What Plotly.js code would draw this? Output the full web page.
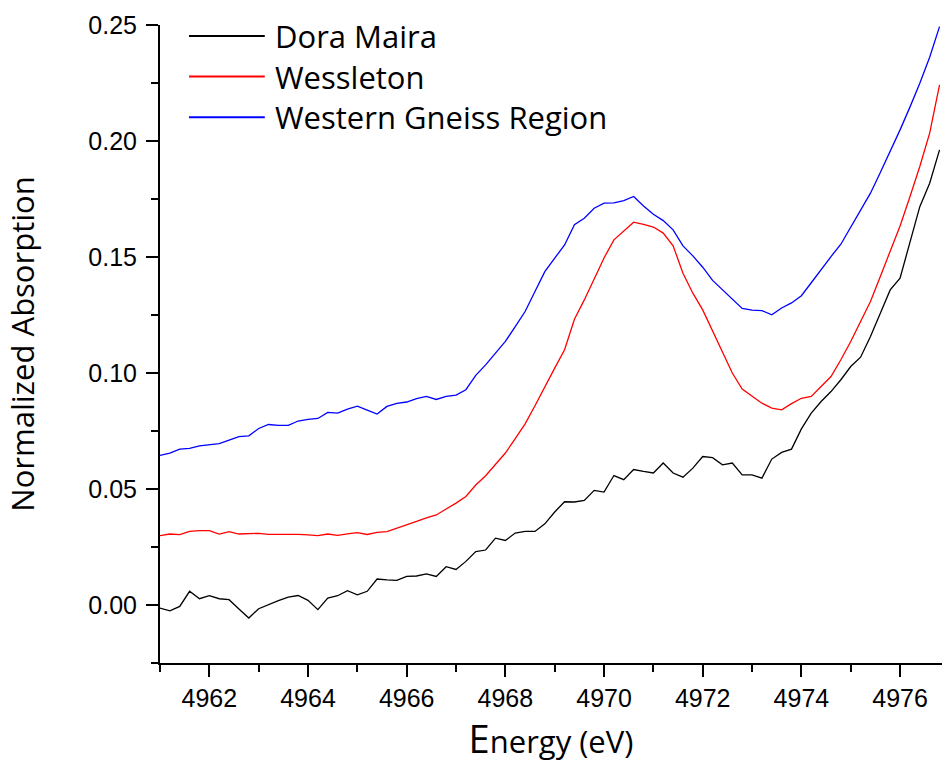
<!DOCTYPE html>
<html>
<head>
<meta charset="utf-8">
<script src="https://cdn.plot.ly/plotly-3.0.1.min.js"></script>
<style>
  html, body { margin: 0; padding: 0; background: #fff; }
  #chart { width: 942px; height: 766px; }
</style>
</head>
<body>
<div id="chart"></div>
<script>
// Photon energy (eV) of each sample point
const energy = [
  4961.0, 4961.2, 4961.4, 4961.6, 4961.8, 4962.0, 4962.2, 4962.4, 4962.6, 4962.8,
  4963.0, 4963.2, 4963.4, 4963.6, 4963.8, 4964.0, 4964.2, 4964.4, 4964.6, 4964.8,
  4965.0, 4965.2, 4965.4, 4965.6, 4965.8, 4966.0, 4966.2, 4966.4, 4966.6, 4966.8,
  4967.0, 4967.2, 4967.4, 4967.6, 4967.8, 4968.0, 4968.2, 4968.4, 4968.6, 4968.8,
  4969.0, 4969.2, 4969.4, 4969.6, 4969.8, 4970.0, 4970.2, 4970.4, 4970.6, 4970.8,
  4971.0, 4971.2, 4971.4, 4971.6, 4971.8, 4972.0, 4972.2, 4972.4, 4972.6, 4972.8,
  4973.0, 4973.2, 4973.4, 4973.6, 4973.8, 4974.0, 4974.2, 4974.4, 4974.6, 4974.8,
  4975.0, 4975.2, 4975.4, 4975.6, 4975.8, 4976.0, 4976.2, 4976.4, 4976.6, 4976.8
];

// Normalized absorption, Dora Maira
const doraMaira = [
  -0.0013, -0.0025, -0.0006, 0.0059, 0.0027, 0.0040, 0.0027, 0.0023, -0.0017, -0.0056,
  -0.0016, 0.0003, 0.0019, 0.0034, 0.0041, 0.0020, -0.0020, 0.0030, 0.0040, 0.0062,
  0.0044, 0.0059, 0.0112, 0.0108, 0.0106, 0.0123, 0.0125, 0.0134, 0.0123, 0.0165,
  0.0153, 0.0188, 0.0230, 0.0237, 0.0288, 0.0278, 0.0310, 0.0317, 0.0317, 0.0350,
  0.0401, 0.0445, 0.0444, 0.0451, 0.0494, 0.0487, 0.0558, 0.0540, 0.0584, 0.0576,
  0.0569, 0.0612, 0.0569, 0.0551, 0.0590, 0.0640, 0.0635, 0.0604, 0.0612, 0.0561,
  0.0561, 0.0547, 0.0629, 0.0658, 0.0672, 0.0759, 0.0827, 0.0877, 0.0920, 0.0971,
  0.1028, 0.1068, 0.1157, 0.1258, 0.1358, 0.1409, 0.1560, 0.1717, 0.1818, 0.1962
];

// Normalized absorption, Wessleton
const wessleton = [
  0.0299, 0.0306, 0.0303, 0.0317, 0.0321, 0.0321, 0.0306, 0.0316, 0.0306, 0.0306,
  0.0309, 0.0304, 0.0304, 0.0307, 0.0304, 0.0302, 0.0299, 0.0306, 0.0300, 0.0307,
  0.0312, 0.0304, 0.0313, 0.0316, 0.0330, 0.0343, 0.0360, 0.0376, 0.0388, 0.0414,
  0.0439, 0.0468, 0.0517, 0.0557, 0.0605, 0.0655, 0.0717, 0.0781, 0.0859, 0.0942,
  0.1021, 0.1100, 0.1232, 0.1315, 0.1402, 0.1496, 0.1574, 0.1614, 0.1650, 0.1641,
  0.1629, 0.1603, 0.1548, 0.1430, 0.1344, 0.1272, 0.1179, 0.1086, 0.1000, 0.0931,
  0.0902, 0.0870, 0.0849, 0.0841, 0.0868, 0.0891, 0.0899, 0.0940, 0.0985, 0.1057,
  0.1136, 0.1222, 0.1308, 0.1416, 0.1523, 0.1634, 0.1760, 0.1890, 0.2034, 0.2242
];

// Normalized absorption, Western Gneiss Region
const westernGneiss = [
  0.0645, 0.0655, 0.0672, 0.0675, 0.0686, 0.0692, 0.0696, 0.0711, 0.0726, 0.0729,
  0.0761, 0.0778, 0.0774, 0.0774, 0.0793, 0.0800, 0.0804, 0.0830, 0.0827, 0.0844,
  0.0857, 0.0840, 0.0823, 0.0856, 0.0869, 0.0875, 0.0890, 0.0899, 0.0886, 0.0899,
  0.0905, 0.0928, 0.0990, 0.1035, 0.1086, 0.1136, 0.1200, 0.1265, 0.1351, 0.1437,
  0.1495, 0.1552, 0.1639, 0.1667, 0.1710, 0.1732, 0.1733, 0.1743, 0.1761, 0.1720,
  0.1684, 0.1657, 0.1617, 0.1548, 0.1505, 0.1456, 0.1399, 0.1358, 0.1320, 0.1278,
  0.1271, 0.1269, 0.1251, 0.1280, 0.1302, 0.1333, 0.1389, 0.1448, 0.1502, 0.1555,
  0.1629, 0.1699, 0.1775, 0.1864, 0.1954, 0.2048, 0.2146, 0.2249, 0.2361, 0.2493
];

const seriesNames = ['Dora Maira', 'Wessleton', 'Western Gneiss Region'];
const seriesColors = ['#000000', '#ff0000', '#0000ff'];
const seriesValues = [doraMaira, wessleton, westernGneiss];

const traces = seriesValues.map((vals, k) => ({
  type: 'scatter',
  mode: 'lines',
  x: energy,
  y: vals,
  name: seriesNames[k],
  line: { color: seriesColors[k], width: 1.3 },
  showlegend: false,
  hoverinfo: 'x+y+name'
}));

// Key in the upper-left corner: a long line swatch plus the series name
const keyShapes = [];
const keyLabels = [];
const keyTop = 0.9828, keyStep = 0.0636;
seriesNames.forEach((nm, k) => {
  const yy = keyTop - k * keyStep;
  keyShapes.push({
    type: 'line', xref: 'paper', yref: 'paper',
    x0: 0.0371, x1: 0.134, y0: yy, y1: yy,
    line: { color: seriesColors[k], width: 2 }
  });
  keyLabels.push({
    xref: 'paper', yref: 'paper', x: 0.1445, y: yy,
    xanchor: 'left', yanchor: 'middle', showarrow: false,
    text: nm,
    font: { family: 'Open Sans, sans-serif', size: 31, color: '#000' }
  });
});

const tickFont = { family: 'Liberation Sans, Arial, sans-serif', size: 25, color: '#000' };

const layout = {
  width: 942,
  height: 766,
  margin: { l: 160, r: 0, t: 25, b: 103, pad: 0 },
  paper_bgcolor: '#ffffff',
  plot_bgcolor: '#ffffff',
  showlegend: false,
  xaxis: {
    range: [4961, 4976.85],
    tick0: 4962, dtick: 2,
    ticks: 'outside', ticklen: 12, tickwidth: 2, tickcolor: '#000',
    minor: { dtick: 1, tick0: 4961, ticks: 'outside', ticklen: 7, tickwidth: 2, tickcolor: '#000', showgrid: false },
    showline: true, linecolor: '#000', linewidth: 2,
    showgrid: false, zeroline: false,
    tickfont: tickFont,
    ticklabelstandoff: 0,
    title: {
      text: '<span style="font-size:38px">E</span>nergy (eV)',
      font: { family: 'Open Sans, sans-serif', size: 31, color: '#000' },
      standoff: 18
    },
    automargin: false
  },
  yaxis: {
    range: [-0.025, 0.25],
    tick0: 0, dtick: 0.05, tickformat: '.2f',
    ticks: 'outside', ticklen: 12, tickwidth: 2, tickcolor: '#000',
    minor: { dtick: 0.025, ticks: 'outside', ticklen: 7, tickwidth: 2, tickcolor: '#000', showgrid: false },
    showline: true, linecolor: '#000', linewidth: 2,
    showgrid: false, zeroline: false,
    tickfont: tickFont,
    ticklabelstandoff: 4,
    title: {
      text: 'Normalized Absorption',
      font: { family: 'Open Sans, sans-serif', size: 31, color: '#000' },
      standoff: 44
    },
    automargin: false
  },
  shapes: keyShapes,
  annotations: keyLabels
};

Plotly.newPlot('chart', traces, layout, { displayModeBar: false, staticPlot: true });
</script>
</body>
</html>
